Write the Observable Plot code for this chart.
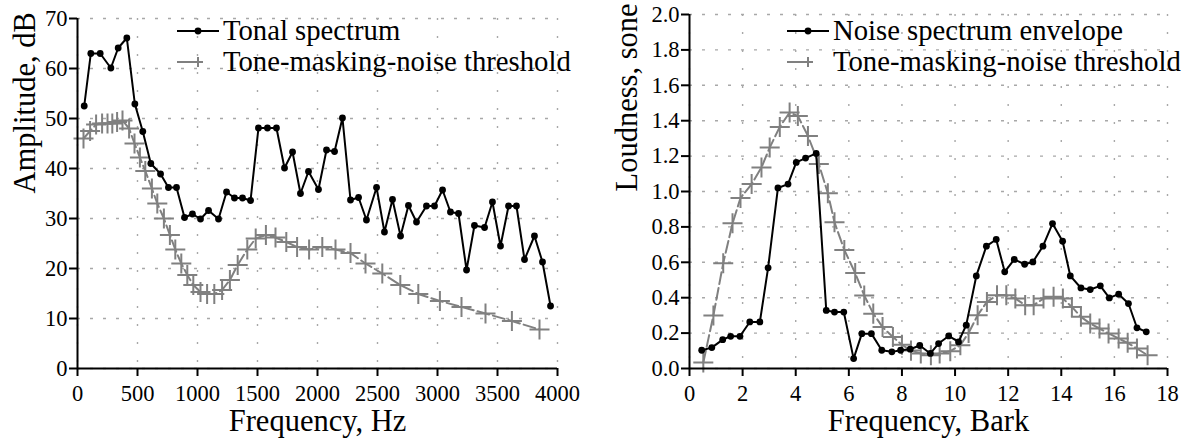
<!DOCTYPE html>
<html>
<head>
<meta charset="utf-8">
<script src="https://cdn.jsdelivr.net/npm/d3@7"></script>
<script src="https://cdn.jsdelivr.net/npm/@observablehq/plot@0.6"></script>
<style>
  html, body { margin: 0; padding: 0; background: #fff; }
  #wrap { position: relative; width: 1189px; height: 441px; font-family: "Liberation Serif", "Times New Roman", serif; }
  .panel { position: absolute; top: 0; max-width: none !important; }
  .panel text { font-family: "Liberation Serif", "Times New Roman", serif; font-variant-numeric: normal; }
  .legend { position: absolute; font-size: 28.7px; color: #000; line-height: 31px; }
  .legend .row { display: flex; align-items: center; height: 31px; white-space: nowrap; }
  .legend svg { flex: none; margin-right: 4px; }
</style>
</head>
<body>
<div id="wrap"></div>
<script>
// ---- Left panel data (Hz, dB)
const tonalFreq = [56,111,189,278,339,411,478,544,611,692,758,825,892,958,1025,1092,1175,1242,1308,1375,1442,1508,1583,1658,1725,1792,1858,1925,2008,2075,2142,2208,2275,2342,2408,2492,2558,2625,2692,2758,2825,2908,2975,3042,3108,3175,3242,3308,3392,3458,3525,3592,3658,3725,3808,3875,3942];
const tonalDb = [52.5,63,63,60.1,64.1,66.1,52.9,47.4,41,38.9,36.2,36.2,30.2,30.9,29.9,31.6,29.9,35.3,34.1,34.1,33.6,48.1,48.1,48.1,40.1,43.3,35,39.4,35.8,43.7,43.4,50.1,33.7,34.2,29.7,36.2,27.3,33.8,26.5,32.6,29.3,32.5,32.5,35.7,31.3,31,19.7,28.6,28.2,33.3,24.5,32.5,32.5,21.8,26.5,21.3,12.5];
const tmnFreq = [50,105,155,205,250,290,330,375,430,475,520,565,620,665,720,770,815,865,915,965,1025,1080,1140,1205,1270,1335,1415,1485,1570,1650,1740,1830,1930,2040,2150,2275,2400,2540,2690,2840,3020,3200,3400,3620,3850];
const tmnDb = [46,47.5,48.8,49,49,49,49.3,49.6,48,45,42.2,39.5,36,33,30,26.7,23.8,21,18.7,16.7,15.3,14.9,14.9,15.7,17.7,20.7,23.8,26,26.7,26.2,25.3,24.3,23.8,24.3,23.8,23.1,21,19,16.7,14.9,13.5,12.3,11,9.5,7.8];
const leftXTicks = [0,500,1000,1500,2000,2500,3000,3500,4000];
const leftYTicks = [0,10,20,30,40,50,60,70];

// ---- Right panel data (Bark, sone)
const noiseBark = [0.46,0.84,1.25,1.55,1.9,2.27,2.65,2.96,3.33,3.71,4.02,4.37,4.77,5.15,5.46,5.81,6.18,6.49,6.85,7.24,7.62,7.95,8.31,8.67,9.07,9.38,9.76,10.13,10.42,10.8,11.18,11.55,11.87,12.23,12.62,12.93,13.31,13.67,14.05,14.34,14.74,15.09,15.47,15.81,16.16,16.53,16.85,17.2];
const noiseSone = [0.103,0.118,0.163,0.182,0.182,0.263,0.263,0.569,1.02,1.042,1.164,1.189,1.215,0.328,0.319,0.319,0.056,0.197,0.197,0.103,0.094,0.103,0.109,0.13,0.085,0.141,0.184,0.15,0.245,0.523,0.691,0.729,0.546,0.616,0.589,0.602,0.691,0.819,0.719,0.523,0.455,0.446,0.467,0.399,0.42,0.367,0.23,0.207];
const tmnBark = [0.52,0.9,1.27,1.62,1.92,2.34,2.71,3.02,3.4,3.77,4.08,4.46,4.87,5.21,5.46,5.83,6.24,6.58,6.92,7.27,7.66,8.0,8.34,8.71,9.09,9.42,9.82,10.2,10.51,10.85,11.2,11.58,11.93,12.27,12.64,12.96,13.33,13.71,14.06,14.4,14.74,15.09,15.44,15.78,16.16,16.5,16.85,17.25];
const tmnSone = [0.034,0.30,0.595,0.82,0.963,1.042,1.136,1.248,1.365,1.446,1.427,1.314,1.155,0.99,0.826,0.67,0.539,0.413,0.31,0.234,0.178,0.134,0.101,0.085,0.075,0.085,0.098,0.132,0.201,0.301,0.376,0.414,0.414,0.395,0.358,0.358,0.395,0.405,0.395,0.348,0.292,0.254,0.226,0.198,0.169,0.145,0.113,0.075];
const rightXTicks = [0,2,4,6,8,10,12,14,16,18];
const rightYTicks = [0,0.2,0.4,0.6,0.8,1.0,1.2,1.4,1.6,1.8,2.0];

const legendLeft = ["Tonal spectrum", "Tone-masking-noise threshold"];
const legendRight = ["Noise spectrum envelope", "Tone-masking-noise threshold"];

const GRAY = "#808080";
const DASH = "12,4";
const FONT = '"Liberation Serif", "Times New Roman", serif';

function makePanel(cfg) {
  const main = cfg.xs.map((x, i) => ({x, y: cfg.ys[i]}));
  const thr = cfg.tx.map((x, i) => ({x, y: cfg.ty[i]}));
  const svg = Plot.plot({
    width: cfg.width, height: 441,
    marginLeft: cfg.ml, marginRight: cfg.mr, marginTop: cfg.mt, marginBottom: 73,
    style: {fontFamily: FONT, color: "#000", background: "transparent", overflow: "visible"},
    x: {domain: cfg.xDomain},
    y: {domain: cfg.yDomain},
    marks: [
      Plot.gridX(cfg.xTicks, {stroke: "#a8a8a8", strokeOpacity: 1, strokeWidth: 1.4, strokeDasharray: "2,16"}),
      Plot.gridY(cfg.yTicks, {stroke: "#a8a8a8", strokeOpacity: 1, strokeWidth: 1.4, strokeDasharray: "3,10"}),
      Plot.line(thr, {x: "x", y: "y", stroke: GRAY, strokeWidth: 2, strokeDasharray: DASH}),
      Plot.dot(thr, {x: "x", y: "y", symbol: "plus", r: 6.5, stroke: GRAY, strokeWidth: 2}),
      Plot.line(main, {x: "x", y: "y", stroke: "#000", strokeWidth: 2}),
      Plot.dot(main, {x: "x", y: "y", r: 3.4, fill: "#000", stroke: "none"}),
      Plot.ruleX([cfg.xDomain[0]], {stroke: "#000", strokeWidth: 2}),
      Plot.ruleY([cfg.yDomain[0]], {stroke: "#000", strokeWidth: 2}),
      Plot.axisX(cfg.xTicks, {tickSize: 8, tickPadding: 9, fontSize: 22.5, fontFamily: FONT, strokeWidth: 2, label: null, tickFormat: cfg.xFmt}),
      Plot.axisY(cfg.yTicks, {tickSize: 8, tickPadding: 2, fontSize: 22.5, fontFamily: FONT, strokeWidth: 2, label: null, tickFormat: cfg.yFmt}),
      Plot.text([cfg.xLabel], {frameAnchor: "bottom", text: d => d, dy: 53, fontSize: 30.5, fontFamily: FONT, lineAnchor: "middle"}),
      Plot.text([cfg.yLabel], {frameAnchor: "left", text: d => d, dx: cfg.yLabelDx, rotate: -90, fontSize: 30.5, fontFamily: FONT, lineAnchor: "middle"})
    ]
  });
  svg.querySelectorAll("text").forEach(t => {
    t.style.fontFamily = FONT;
    t.style.fontVariantNumeric = "normal";
  });
  return svg;
}

function legendBlock(labels, left, top) {
  const div = document.createElement("div");
  div.className = "legend";
  div.style.left = left + "px";
  div.style.top = top + "px";
  labels.forEach((lab, i) => {
    const row = document.createElement("div");
    row.className = "row";
    const ns = "http://www.w3.org/2000/svg";
    const s = document.createElementNS(ns, "svg");
    s.setAttribute("width", 42); s.setAttribute("height", 20);
    const ln = document.createElementNS(ns, "line");
    ln.setAttribute("x1", 0); ln.setAttribute("x2", 42); ln.setAttribute("y1", 10); ln.setAttribute("y2", 10);
    ln.setAttribute("stroke-width", 2);
    if (i === 0) {
      ln.setAttribute("stroke", "#000");
      s.appendChild(ln);
      const c = document.createElementNS(ns, "circle");
      c.setAttribute("cx", 21); c.setAttribute("cy", 10); c.setAttribute("r", 3.4); c.setAttribute("fill", "#000");
      s.appendChild(c);
    } else {
      ln.setAttribute("stroke", GRAY);
      ln.setAttribute("stroke-dasharray", "16,26");
      s.appendChild(ln);
      const p = document.createElementNS(ns, "path");
      p.setAttribute("d", "M21,5V15M16,10H26");
      p.setAttribute("stroke", GRAY); p.setAttribute("stroke-width", 2);
      s.appendChild(p);
    }
    row.appendChild(s);
    const t = document.createElement("span");
    t.textContent = lab;
    row.appendChild(t);
    div.appendChild(row);
  });
  return div;
}

const wrap = document.getElementById("wrap");

const left = makePanel({
  width: 590, ml: 77, mr: 33, mt: 18,
  xs: tonalFreq, ys: tonalDb, tx: tmnFreq, ty: tmnDb,
  xDomain: [0, 4000], yDomain: [0, 70],
  xTicks: leftXTicks, yTicks: leftYTicks,
  xFmt: d3.format("d"), yFmt: d3.format("d"),
  xLabel: "Frequency, Hz", yLabel: "Amplitude, dB", yLabelDx: -52
});
left.classList.add("panel");
left.style.left = "0px";
wrap.appendChild(left);

const right = makePanel({
  width: 599, ml: 99, mr: 22, mt: 14,
  xs: noiseBark, ys: noiseSone, tx: tmnBark, ty: tmnSone,
  xDomain: [0, 18], yDomain: [0, 2],
  xTicks: rightXTicks, yTicks: rightYTicks,
  xFmt: d3.format("d"), yFmt: d3.format(".1f"),
  xLabel: "Frequency, Bark", yLabel: "Loudness, sone", yLabelDx: -62
});
right.classList.add("panel");
right.style.left = "590px";
wrap.appendChild(right);

wrap.appendChild(legendBlock(legendLeft, 177, 15));
wrap.appendChild(legendBlock(legendRight, 787, 15));
</script>
</body>
</html>
